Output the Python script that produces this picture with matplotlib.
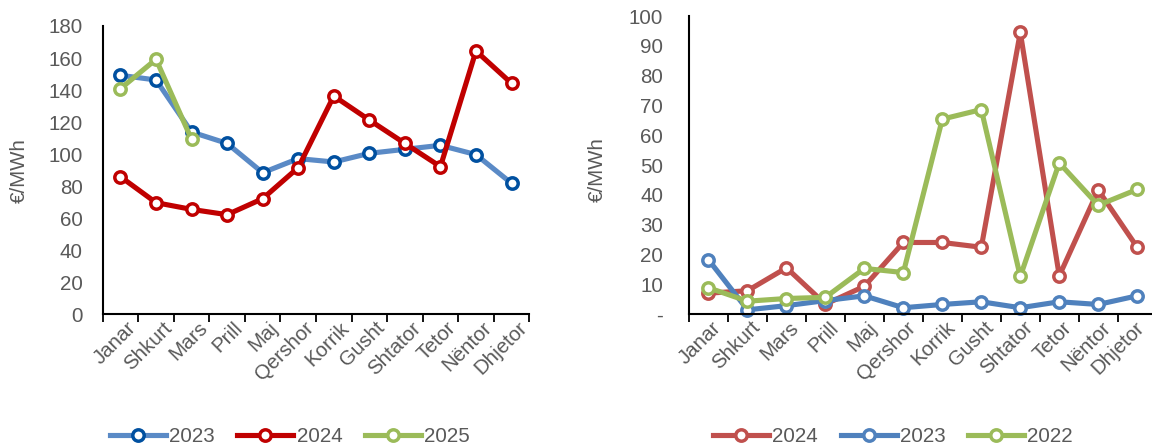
import matplotlib.pyplot as plt
from matplotlib.ticker import FixedLocator, NullFormatter
from matplotlib.transforms import ScaledTranslation

plt.rcParams['font.family'] = ['Liberation Sans', 'DejaVu Sans']

months = ["Janar", "Shkurt", "Mars", "Prill", "Maj", "Qershor", "Korrik",
          "Gusht", "Shtator", "Tetor", "Nëntor", "Dhjetor"]

# Left panel (€/MWh)
left_2023 = [149.2, 146.3, 113.8, 106.7, 88.4, 97.2, 95.1, 100.5, 103.0, 105.5, 99.7, 81.8]
left_2024 = [85.9, 69.7, 65.5, 62.2, 72.2, 91.6, 136.3, 121.3, 106.7, 92.2, 164.4, 144.2]
left_2025 = [140.9, 159.2, 109.2]

# Right panel (€/MWh)
right_2024 = [7.0, 7.8, 15.5, 3.3, 9.3, 24.0, 24.0, 22.4, 94.5, 12.8, 41.6, 22.4]
right_2023 = [18.2, 1.4, 2.8, 4.5, 6.1, 2.1, 3.2, 4.1, 2.1, 4.1, 3.2, 6.1]
right_2022 = [8.8, 4.3, 5.2, 5.6, 15.3, 13.9, 65.4, 68.6, 12.6, 50.7, 36.5, 41.8]

GRAY = "#595959"
FS = 14.8
W, H = 1152, 448

fig = plt.figure(figsize=(W / 100, H / 100), dpi=100)


def px_axes(x0, x1, y_top, y_bot):
    return fig.add_axes([x0 / W, 1 - y_bot / H, (x1 - x0) / W, (y_bot - y_top) / H])


ax1 = px_axes(102.7, 529.3, 26, 314.3)
ax2 = px_axes(689, 1156.7, 16, 314)

LW = 3.7
MS = 8.2
MEW = 2.5


def series(ax, vals, line_color, marker_color, label):
    x = list(range(len(vals)))
    ax.plot(x, vals, color=line_color, lw=LW, marker="o", ms=MS,
            mfc="white", mec=marker_color, mew=MEW, label=label,
            solid_joinstyle="round", clip_on=False)


def style(ax, ymax, ystep, ypad, dx, last_dx=None, dash_zero=False):
    n = len(months)
    ax.set_xlim(-0.5, n - 0.5)
    ax.set_ylim(0, ymax)
    for s in ("top", "right"):
        ax.spines[s].set_visible(False)
    for s in ("left", "bottom"):
        ax.spines[s].set_color("black")
        ax.spines[s].set_linewidth(1.5)
    ax.xaxis.set_major_locator(FixedLocator([i - 0.5 for i in range(n + 1)]))
    ax.xaxis.set_major_formatter(NullFormatter())
    ax.set_xticks(list(range(n)), months, minor=True)
    ax.tick_params(axis="x", which="major", direction="out", length=6,
                   width=1.3, color="black")
    ax.tick_params(axis="x", which="minor", length=0, pad=5)
    labels = ax.get_xticklabels(minor=True)
    for i, lab in enumerate(labels):
        off = dx if (last_dx is None or i < len(labels) - 1) else last_dx
        shift = ScaledTranslation(off / 100, 3 / 100, fig.dpi_scale_trans)
        lab.set_rotation(45)
        lab.set_ha("right")
        lab.set_va("top")
        lab.set_rotation_mode("anchor")
        lab.set_fontsize(FS)
        lab.set_color(GRAY)
        lab.set_transform(lab.get_transform() + shift)
    ticks = list(range(0, ymax + 1, ystep))
    ax.set_yticks(ticks)
    if dash_zero:
        ax.set_yticklabels(["-" if t == 0 else str(t) for t in ticks])
    ax.tick_params(axis="y", length=0, pad=ypad, labelsize=FS, labelcolor=GRAY)
    ax.set_ylabel("€/MWh", fontsize=FS, color=GRAY)


series(ax1, left_2023, "#5A8AC6", "#0050A0", "2023")
series(ax1, left_2024, "#C00000", "#C00000", "2024")
series(ax1, left_2025, "#9BBB59", "#9BBB59", "2025")
style(ax1, 180, 20, ypad=14.2, dx=6)
ax1.yaxis.set_label_coords((29 - 102.7) / 426.6, 0.5)

series(ax2, right_2024, "#C0504D", "#C0504D", "2024")
series(ax2, right_2023, "#4F81BD", "#4F81BD", "2023")
series(ax2, right_2022, "#9BBB59", "#9BBB59", "2022")
style(ax2, 100, 10, ypad=18.5, dx=3, last_dx=-3, dash_zero=True)
ax2.yaxis.set_label_coords((607 - 689) / 467.7, (314 - 170) / 298)

for ax, cx in ((ax1, 290 / W), (ax2, 893 / W)):
    h, l = ax.get_legend_handles_labels()
    fig.legend(h, l, loc="center", bbox_to_anchor=(cx, 1 - 436.7 / H), ncol=3,
               frameon=False, fontsize=FS, handlelength=2.72, handletextpad=0.16,
               columnspacing=1.1, labelcolor=GRAY, borderpad=0)

fig.savefig("out.png", dpi=100)
